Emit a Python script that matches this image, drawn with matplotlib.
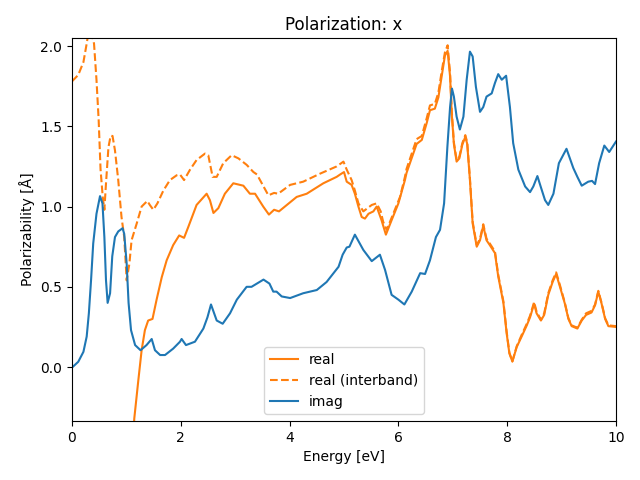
import numpy as np
import matplotlib.pyplot as plt

# energies [eV] and polarizability [A]
imag_x = [0.0, 0.01, 0.115, 0.21, 0.27, 0.31, 0.35, 0.39, 0.45, 0.515, 0.56, 0.595, 0.625,
          0.655, 0.70, 0.74, 0.79, 0.85, 0.93, 0.96, 1.005, 1.04, 1.085, 1.16, 1.26, 1.37,
          1.465, 1.525, 1.62, 1.71, 1.86, 1.985, 2.015, 2.095, 2.26, 2.415,
          2.49, 2.555, 2.66, 2.77, 2.905, 3.03, 3.21, 3.3, 3.52, 3.63, 3.70, 3.76, 3.855,
          4.01, 4.25, 4.50, 4.68, 4.90, 4.975, 5.05, 5.10, 5.20, 5.355, 5.51, 5.66, 5.755,
          5.875, 6.0, 6.11, 6.245, 6.40, 6.49, 6.58, 6.69, 6.765, 6.84, 6.9, 6.95, 6.985,
          7.02, 7.07, 7.13, 7.195, 7.255, 7.315, 7.365, 7.425, 7.50, 7.56, 7.62, 7.715,
          7.775, 7.835, 7.9, 7.98, 8.05, 8.11, 8.205, 8.33, 8.42, 8.48, 8.555, 8.615, 8.695,
          8.755, 8.85, 8.95, 9.09, 9.215, 9.29,
          9.37, 9.49, 9.56, 9.615, 9.69, 9.785, 9.875, 10.0]
imag_y = [0.0, 0.0, 0.033, 0.095, 0.19, 0.335, 0.54, 0.77, 0.955, 1.065, 1.02, 0.81, 0.54,
          0.40, 0.46, 0.69, 0.81, 0.845, 0.865, 0.83, 0.645, 0.40, 0.23, 0.137, 0.105, 0.137,
          0.175, 0.105, 0.075, 0.075, 0.115, 0.158, 0.175, 0.137, 0.158, 0.24,
          0.31, 0.39, 0.29, 0.27, 0.335, 0.42, 0.50, 0.50, 0.545, 0.52, 0.47, 0.47, 0.44,
          0.43, 0.46, 0.48, 0.53, 0.625, 0.70, 0.745, 0.75, 0.825, 0.73, 0.66, 0.70, 0.605,
          0.45, 0.42, 0.39, 0.47, 0.585, 0.58, 0.665, 0.81, 0.855, 1.02, 1.37, 1.62, 1.735,
          1.685, 1.56, 1.48, 1.56, 1.79, 1.965, 1.935, 1.745, 1.59, 1.62, 1.685, 1.705,
          1.77, 1.825, 1.79, 1.815, 1.62, 1.395, 1.23, 1.125, 1.09, 1.125, 1.19, 1.125, 1.04,
          1.01, 1.08, 1.27, 1.36, 1.24, 1.185,
          1.13, 1.155, 1.16, 1.14, 1.27, 1.38, 1.34, 1.405]

real_x = [1.10, 1.145, 1.22, 1.28, 1.34, 1.40, 1.48, 1.555, 1.65, 1.74, 1.86, 1.97, 2.06,
          2.14, 2.29, 2.475, 2.535, 2.6, 2.69, 2.81, 2.965, 3.15, 3.27, 3.365, 3.515, 3.62,
          3.715, 3.805, 4.13, 4.315, 4.62, 4.865, 4.93, 5.0, 5.05, 5.14, 5.2, 5.265, 5.325,
          5.385, 5.45, 5.54, 5.6, 5.69, 5.77, 5.875, 6.0, 6.12, 6.15, 6.335, 6.43, 6.52,
          6.58, 6.67, 6.735, 6.795, 6.855, 6.905, 6.95, 6.98, 7.02, 7.07, 7.12, 7.175, 7.23,
          7.265, 7.315, 7.365, 7.44, 7.5, 7.56, 7.62, 7.68, 7.775, 7.835, 7.93, 7.99, 8.04,
          8.095, 8.175, 8.265, 8.36, 8.42, 8.495, 8.54, 8.62, 8.68, 8.755, 8.835, 8.9, 8.97,
          9.06, 9.125, 9.185, 9.29, 9.37, 9.45, 9.55, 9.615, 9.675, 9.735, 9.80, 9.86, 10.0]
real_y = [-0.60, -0.32, -0.08, 0.105, 0.23, 0.29, 0.30, 0.42, 0.56, 0.665, 0.76, 0.82,
          0.805, 0.875, 1.01, 1.08, 1.04, 0.96, 0.99, 1.08, 1.145, 1.13, 1.08, 1.08, 1.0,
          0.95, 0.98, 0.97, 1.06, 1.08, 1.145, 1.185, 1.20, 1.215, 1.155, 1.135, 1.08, 1.0,
          0.935, 0.925, 0.955, 0.97, 1.0, 0.915, 0.825, 0.915, 1.02, 1.165, 1.21, 1.39,
          1.415, 1.52, 1.60, 1.61, 1.68, 1.81, 1.94, 1.97, 1.81, 1.58, 1.39, 1.28, 1.30,
          1.385, 1.435, 1.39, 1.165, 0.895, 0.75, 0.79, 0.88, 0.79, 0.76, 0.71, 0.565,
          0.40, 0.21, 0.085, 0.035, 0.125, 0.19, 0.26, 0.31, 0.395, 0.335, 0.29, 0.325,
          0.45, 0.53, 0.58, 0.50, 0.395, 0.30, 0.255, 0.24, 0.29, 0.325, 0.34, 0.385, 0.47,
          0.395, 0.30, 0.255, 0.25]

inter_x = [0.0, 0.115, 0.21, 0.27, 0.30, 0.35, 0.405, 0.45, 0.49, 0.525, 0.565, 0.595,
           0.625, 0.67, 0.71, 0.745, 0.79, 0.85, 0.91, 0.96, 1.005, 1.055, 1.095, 1.19,
           1.28, 1.385, 1.43, 1.495, 1.57, 1.68, 1.80,
           1.925, 1.985, 2.06, 2.17, 2.29, 2.445, 2.505, 2.585, 2.66, 2.78, 2.935, 3.06,
           3.21, 3.335, 3.40, 3.505, 3.61, 3.715, 3.79, 4.01, 4.25, 4.56, 4.865, 4.99, 5.05,
           5.14, 5.2, 5.265, 5.355, 5.51, 5.6, 5.675, 5.72, 5.785, 5.905, 6.03, 6.12, 6.15,
           6.335, 6.43, 6.52, 6.58, 6.67, 6.735, 6.795, 6.855, 6.905, 6.95, 6.98, 7.02,
           7.07, 7.12, 7.175, 7.23, 7.265, 7.315, 7.365, 7.44, 7.5, 7.56, 7.62, 7.68,
           7.775, 7.835, 7.93, 7.99, 8.04, 8.095, 8.175, 8.265, 8.36, 8.42, 8.495, 8.54,
           8.62, 8.68, 8.755, 8.835, 8.9, 8.97, 9.06, 9.125, 9.185, 9.29, 9.37, 9.45, 9.55,
           9.615, 9.675, 9.735, 9.80, 9.86, 10.0]
inter_y = [1.78, 1.82, 1.90, 2.015, 2.08, 2.09, 2.015, 1.79, 1.54, 1.23, 1.06, 0.98,
           1.145, 1.37, 1.44, 1.44, 1.35, 1.165, 0.935, 0.81, 0.54, 0.645, 0.79, 0.895,
           1.0, 1.035, 1.01, 0.98, 1.02, 1.10, 1.165,
           1.195, 1.2, 1.165, 1.23, 1.29, 1.33, 1.32, 1.185, 1.185, 1.27, 1.32, 1.30, 1.26,
           1.215, 1.2, 1.135, 1.07, 1.085, 1.08, 1.135, 1.155, 1.205, 1.25, 1.28, 1.23, 1.165,
           1.10, 1.02, 0.97, 1.01, 1.02, 0.97, 0.905, 0.855, 0.955, 1.06, 1.185, 1.235, 1.42,
           1.44, 1.55, 1.63, 1.64, 1.71, 1.84, 1.96, 2.005, 1.83, 1.60, 1.40, 1.29, 1.31,
           1.395, 1.445, 1.40, 1.175, 0.905, 0.76, 0.80, 0.89, 0.80, 0.77, 0.72, 0.575,
           0.41, 0.22, 0.09, 0.035, 0.13, 0.20, 0.27, 0.32, 0.405, 0.345, 0.295, 0.335,
           0.46, 0.54, 0.59, 0.51, 0.40, 0.305, 0.26, 0.245, 0.295, 0.335, 0.35, 0.39, 0.475,
           0.40, 0.305, 0.26, 0.255]

fig, ax = plt.subplots(figsize=(6.4, 4.8), dpi=100)
ax.plot(real_x, real_y, color='C1', label='real')
ax.plot(inter_x, inter_y, color='C1', ls='--', label='real (interband)')
ax.plot(imag_x, imag_y, color='C0', label='imag')
ax.set_xlim(0, 10)
ax.set_ylim(-0.336, 2.05)
ax.set_xlabel('Energy [eV]')
ax.set_ylabel('Polarizability [Å]')
ax.set_title('Polarization: x')
ax.legend(loc='lower center')
fig.subplots_adjust(left=0.1125, right=0.9625, top=0.9208, bottom=0.1229)
fig.savefig('out.png')
